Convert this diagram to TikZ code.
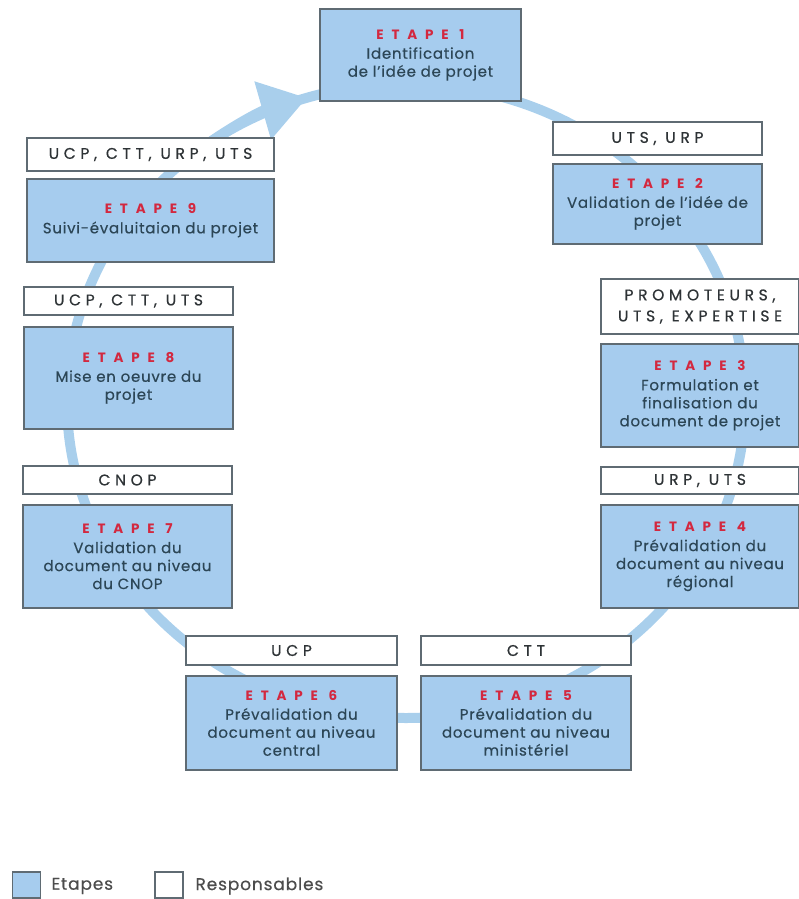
\documentclass[tikz,border=0pt]{standalone}
\usepackage{fontspec}
\setmainfont{Poppins}[LetterSpace=5, FakeBold=0.4]
\newfontfamily\respfont[LetterSpace=30, FakeBold=0.6]{Poppins}
\newfontfamily\titlefont[LetterSpace=58]{Poppins}
\usetikzlibrary{arrows.meta}
\definecolor{loopblue}{HTML}{A9CFEC}
\definecolor{boxblue}{HTML}{A6CCEE}
\definecolor{boxline}{HTML}{5F6B73}
\definecolor{etapered}{HTML}{D3283F}
\definecolor{bodytext}{HTML}{2C4656}
\definecolor{resptext}{HTML}{2E3336}
\newcommand{\etapehead}[1]{{\titlefont\bfseries\fontsize{13.5}{20}\selectfont\color{etapered}ETAPE #1}\\[1.5pt]}
\tikzstyle{etapeBox}=[shape = rectangle, draw = boxline, line width = 1.2pt, fill = boxblue, text = bodytext, align = center, inner sep = 2pt, font = \fontsize{15}{18}\selectfont]
\tikzstyle{respBox}=[shape = rectangle, draw = boxline, line width = 1.2pt, fill = white, text = resptext, align = center, inner sep = 2pt, font = \respfont\fontsize{15.5}{21}\selectfont]

\begin{document}
\begin{tikzpicture}[x = 1pt, y = -1pt]
\tikzstyle{loopLine}=[draw = loopblue, line width = 10pt]
\tikzstyle{keyLabel}=[anchor = west, text = black!70, font = \fontsize{17}{19}\selectfont]
\useasboundingbox (0,0) rectangle (799,899);
% cycle
\draw[loopLine] (406,401) ellipse [x radius = 339, y radius = 317];
\draw[loopLine, -{Triangle[length = 46pt, width = 58pt]}] (406,401) ++(228:339 and 317) arc [start angle = 228, end angle = 253, x radius = 339, y radius = 317];
% etapes
\node[etapeBox, minimum width = 201, minimum height = 92] (e1) at (420.5,55) {\etapehead{1}Identification\\de l'idée de projet};
\node[etapeBox, minimum width = 209, minimum height = 80] (e2) at (657.5,204) {\etapehead{2}Validation de l'idée de\\projet};
\node[etapeBox, minimum width = 198, minimum height = 103] (e3) at (700,395.5) {\etapehead{3}Formulation et\\finalisation du\\document de projet};
\node[etapeBox, minimum width = 198, minimum height = 103] (e4) at (700,556.5) {\etapehead{4}Prévalidation du\\document au niveau\\régional};
\node[etapeBox, minimum width = 210, minimum height = 94] (e5) at (526,723) {\etapehead{5}Prévalidation du\\document au niveau\\ministériel};
\node[etapeBox, minimum width = 211, minimum height = 94] (e6) at (291.5,723) {\etapehead{6}Prévalidation du\\document au niveau\\central};
\node[etapeBox, minimum width = 209, minimum height = 103] (e7) at (127.5,556.5) {\etapehead{7}Validation du\\document au niveau\\du CNOP};
\node[etapeBox, minimum width = 209, minimum height = 102] (e8) at (128.5,378) {\etapehead{8}Mise en oeuvre du\\projet};
\node[etapeBox, minimum width = 247, minimum height = 83] (e9) at (150.5,220.5) {\etapehead{9}Suivi-évaluitaion du projet};
% responsables
\node[respBox, minimum width = 209, minimum height = 33] (r2) at (657.5,138.5) {UTS, URP};
\node[respBox, minimum width = 198, minimum height = 55] (r3) at (700,306.5) {PROMOTEURS,\\UTS, EXPERTISE};
\node[respBox, minimum width = 198, minimum height = 27] (r4) at (700,480.5) {URP, UTS};
\node[respBox, minimum width = 210, minimum height = 29] (r5) at (526,650.5) {CTT};
\node[respBox, minimum width = 211, minimum height = 29] (r6) at (291.5,650.5) {UCP};
\node[respBox, minimum width = 209, minimum height = 28] (r7) at (127.5,480) {CNOP};
\node[respBox, minimum width = 209, minimum height = 28] (r8) at (128.5,301) {UCP, CTT, UTS};
\node[respBox, minimum width = 247, minimum height = 33] (r9) at (150.5,154.5) {UCP, CTT, URP, UTS};
% legende
\node[etapeBox, minimum width = 28, minimum height = 26, inner sep = 0pt] (keyEtape) at (26.5,885) {};
\node[respBox, minimum width = 28, minimum height = 26, inner sep = 0pt] (keyResp) at (169,885) {};
\node[keyLabel] (keyEtapeText) at (48,886) {Etapes};
\node[keyLabel] (keyRespText) at (192,886) {Responsables};
\end{tikzpicture}
\end{document}
